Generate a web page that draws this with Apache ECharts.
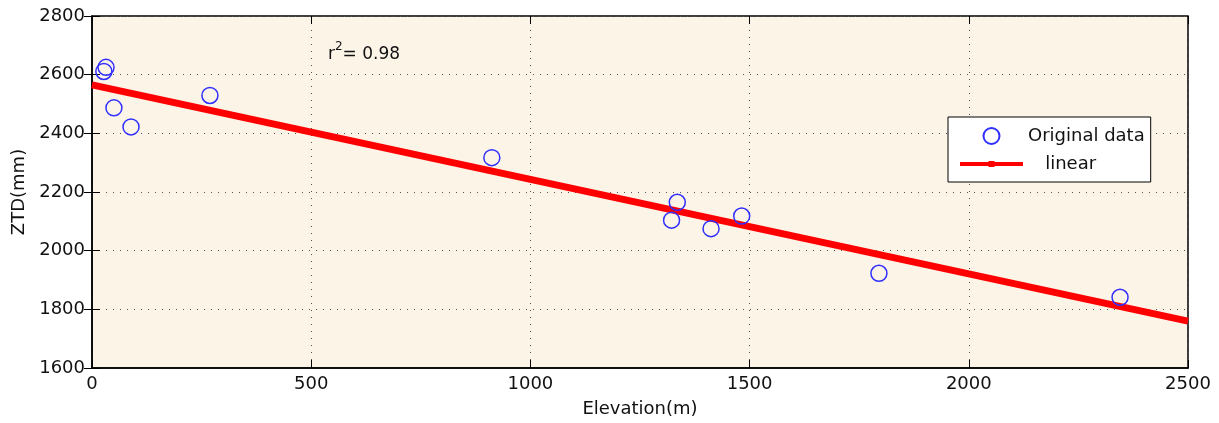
<!DOCTYPE html>
<html>
<head>
<meta charset="utf-8">
<script src="https://cdn.jsdelivr.net/npm/echarts@6/dist/echarts.min.js"></script>
<style>
html,body{margin:0;padding:0;background:#fff;}
#c{width:1219px;height:423px;}
</style>
</head>
<body>
<div id="c"></div>
<script>
// Data
const elevation = [32, 27, 50, 89, 269, 912, 1322, 1335, 1412, 1482, 1795, 2345];
const ztd = [2625, 2611, 2487, 2422, 2529, 2317, 2104, 2165, 2075, 2118, 1923, 1841];
const fitX = [0, 2500];
const fitY = [2565, 1760];
const xTicks = [0, 500, 1000, 1500, 2000, 2500];
const yTicks = [1600, 1800, 2000, 2200, 2400, 2600, 2800];
const rSquared = '0.98';

const FONT = 'DejaVu Sans, sans-serif';
const chart = echarts.init(document.getElementById('c'), null, {renderer: 'canvas'});

const gridLine = {show: true, lineStyle: {color: '#555', type: [1, 6], width: 1}};
const tickStyle = {show: true, inside: true, length: 8, lineStyle: {color: '#000', width: 1}};
const plain = v => String(v);

chart.setOption({
  animation: false,
  backgroundColor: '#fff',
  grid: {left: 92, top: 16, right: 31, bottom: 54, show: true, backgroundColor: '#FDF4E8', borderColor: '#000', borderWidth: 1.5},
  xAxis: [{
    type: 'value', min: xTicks[0], max: xTicks[xTicks.length - 1], interval: 500,
    name: 'Elevation(m)', nameLocation: 'middle', nameGap: 32,
    nameTextStyle: {fontFamily: FONT, fontSize: 18, color: '#111'},
    axisLine: {show: true, lineStyle: {color: '#000', width: 1.5}},
    axisTick: tickStyle,
    axisLabel: {fontFamily: FONT, fontSize: 18, color: '#111', margin: 7, formatter: plain},
    splitLine: gridLine
  }, {
    type: 'value', position: 'top', min: xTicks[0], max: xTicks[xTicks.length - 1], interval: 500,
    axisLine: {show: false}, axisTick: tickStyle, axisLabel: {show: false}, splitLine: {show: false}
  }],
  yAxis: [{
    type: 'value', min: yTicks[0], max: yTicks[yTicks.length - 1], interval: 200,
    name: 'ZTD(mm)', nameLocation: 'middle', nameGap: 60,
    nameTextStyle: {fontFamily: FONT, fontSize: 18, color: '#111'},
    axisLine: {show: true, lineStyle: {color: '#000', width: 1.5}},
    axisTick: tickStyle,
    axisLabel: {fontFamily: FONT, fontSize: 18, color: '#111', margin: 7, formatter: plain},
    splitLine: gridLine
  }, {
    type: 'value', position: 'right', min: yTicks[0], max: yTicks[yTicks.length - 1], interval: 200,
    axisLine: {show: false}, axisTick: tickStyle, axisLabel: {show: false}, splitLine: {show: false}
  }],
  legend: {
    orient: 'vertical', left: 948, top: 117,
    backgroundColor: '#fff', borderColor: '#000', borderWidth: 1, borderRadius: 0,
    padding: [10, 6, 9, 12], itemGap: 10, itemWidth: 63, itemHeight: 16,
    textStyle: {fontFamily: FONT, fontSize: 18, color: '#111'},
    formatter: function (n) { return n === 'linear' ? '   linear' : n; },
    data: [
      {name: 'Original data'},
      {name: 'linear', icon: 'path://M0,0 L0,16 M0,6 L63,6 L63,10 L0,10 Z M28.5,5 L34.5,5 L34.5,11 L28.5,11 Z'}
    ]
  },
  graphic: [{
    type: 'text', left: 328, top: 41,
    style: {
      text: '{a|r}{b|2}{a|= ' + rSquared + '}',
      rich: {
        a: {fontFamily: FONT, fontSize: 17, fill: '#111', lineHeight: 22, verticalAlign: 'bottom'},
        b: {fontFamily: FONT, fontSize: 12, fill: '#111', lineHeight: 22, verticalAlign: 'top'}
      }
    }
  }],
  series: [{
    name: 'linear', type: 'line',
    data: fitX.map((x, i) => [x, fitY[i]]),
    symbol: 'none',
    lineStyle: {color: '#FF0000', width: 7},
    itemStyle: {color: '#FF0000'},
    z: 2
  }, {
    name: 'Original data', type: 'scatter',
    data: elevation.map((x, i) => [x, ztd[i]]),
    symbol: 'circle', symbolSize: 16,
    itemStyle: {color: 'rgba(0,0,0,0)', borderColor: '#2f2fff', borderWidth: 1.5, opacity: 1},
    z: 3
  }]
});
</script>
</body>
</html>
